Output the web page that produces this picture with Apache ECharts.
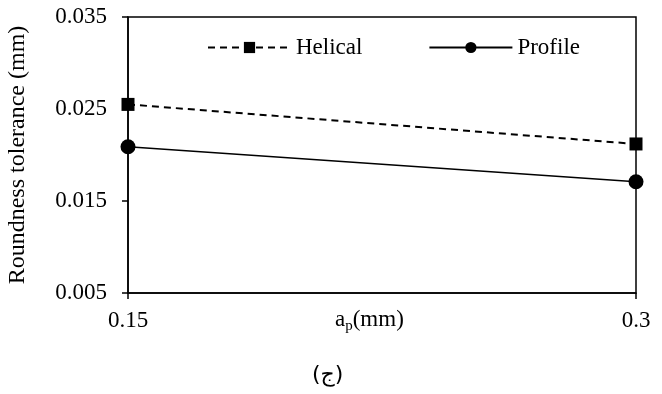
<!DOCTYPE html>
<html><head><meta charset="utf-8">
<script src="https://cdn.jsdelivr.net/npm/echarts@6/dist/echarts.min.js"></script>
<style>html,body{margin:0;padding:0;background:#fff}#c{width:662px;height:394px}</style>
</head><body><div id="c"></div>
<script>
const categories = ['0.15', '0.3'];
const helical = [0.0255, 0.0212];
const profile = [0.0209, 0.0171];
const yTicks = [0.005, 0.015, 0.025, 0.035];

const serif = '"Liberation Serif", "Times New Roman", serif';
const chart = echarts.init(document.getElementById('c'));
chart.setOption({
  animation: false,
  backgroundColor: '#fff',
  grid: {left: 128, right: 26, top: 17, bottom: 101, show: true, borderColor: '#000', borderWidth: 1.5,
         containLabel: false, outerBoundsMode: 'none'},
  legend: {
    top: 31, left: 202, itemGap: 66, itemWidth: 83, itemHeight: 14,
    textStyle: {fontFamily: serif, fontSize: 23, color: '#000', padding: [0, 0, 0, 0]},
    data: ['Helical', 'Profile']
  },
  xAxis: {
    type: 'category', data: categories, boundaryGap: false,
    axisLine: {lineStyle: {color: '#000', width: 1.5}},
    axisTick: {show: true, length: 6, inside: false, lineStyle: {color: '#000', width: 1.5}},
    axisLabel: {fontFamily: serif, fontSize: 23, color: '#000', margin: 16},
    splitLine: {show: false}
  },
  yAxis: {
    type: 'value', min: yTicks[0], max: yTicks[yTicks.length - 1], interval: 0.01,
    axisLine: {show: true, lineStyle: {color: '#000', width: 1.5}},
    axisTick: {show: true, length: 6, lineStyle: {color: '#000', width: 1.5}},
    axisLabel: {fontFamily: serif, fontSize: 23, color: '#000', margin: 21, formatter: v => v.toFixed(3)},
    splitLine: {show: false},
    name: 'Roundness tolerance (mm)', nameLocation: 'middle', nameGap: 98, nameRotate: 90,
    nameTextStyle: {fontFamily: serif, fontSize: 24, color: '#000'}
  },
  graphic: [
    {type: 'text', left: 335, top: 308, style: {
      text: '{a|a}{p|p}{a|(mm)}',
      rich: {a: {fontFamily: serif, fontSize: 23, fill: '#000'}, p: {fontFamily: serif, fontSize: 15, fill: '#000', padding: [14, 0, 0, 0]}}
    }},
    {type: 'text', left: 312, top: 364, style: {text: '(ج)', font: '22px "DejaVu Sans"', fill: '#000'}}
  ],
  series: [
    {name: 'Helical', type: 'line', data: helical, symbol: 'rect', symbolSize: 13,
     lineStyle: {color: '#000', width: 2, type: [7, 5]}, itemStyle: {color: '#000'}},
    {name: 'Profile', type: 'line', data: profile, symbol: 'circle', symbolSize: 15,
     lineStyle: {color: '#000', width: 1.5, type: 'solid'}, itemStyle: {color: '#000'}}
  ]
});
</script></body></html>
